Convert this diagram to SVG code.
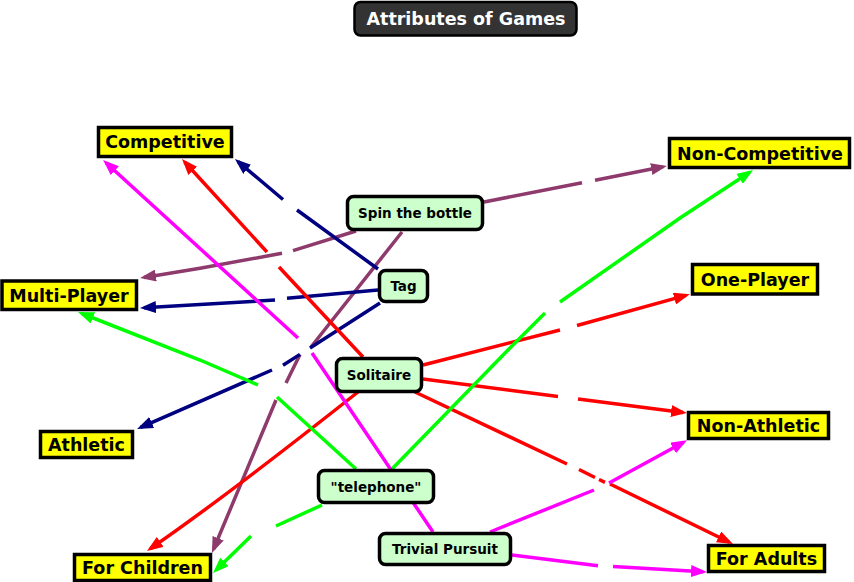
<svg xmlns="http://www.w3.org/2000/svg" width="854" height="582" viewBox="0 0 854 582">
<style>
text{font-family:"DejaVu Sans",Verdana,sans-serif;font-weight:bold;text-anchor:middle}
.attr rect{fill:#ffff00;stroke:#000;stroke-width:3.5}
.attr text{font-size:17.5px;fill:#000}
.game rect{fill:#ccffcc;stroke:#000;stroke-width:3.5}
.game text{font-size:13.5px;fill:#000}
.e{fill:none;stroke-width:3.5}
.red{stroke:#ff0000;marker-end:url(#aRed)}
.navy{stroke:#000080;marker-end:url(#aNavy)}
.mag{stroke:#ff00ff;marker-end:url(#aMag)}
.grn{stroke:#00ff00;marker-end:url(#aGrn)}
.pur{stroke:#8e3a6c;marker-end:url(#aPur)}
</style>
<defs>
<marker id="aRed" viewBox="0 0 16 12" markerWidth="16" markerHeight="12" refX="12" refY="6" markerUnits="userSpaceOnUse" orient="auto"><path d="M0,0 L16,6 L0,12 z" fill="#ff0000"/></marker>
<marker id="aNavy" viewBox="0 0 16 12" markerWidth="16" markerHeight="12" refX="12" refY="6" markerUnits="userSpaceOnUse" orient="auto"><path d="M0,0 L16,6 L0,12 z" fill="#000080"/></marker>
<marker id="aMag" viewBox="0 0 16 12" markerWidth="16" markerHeight="12" refX="12" refY="6" markerUnits="userSpaceOnUse" orient="auto"><path d="M0,0 L16,6 L0,12 z" fill="#ff00ff"/></marker>
<marker id="aGrn" viewBox="0 0 16 12" markerWidth="16" markerHeight="12" refX="12" refY="6" markerUnits="userSpaceOnUse" orient="auto"><path d="M0,0 L16,6 L0,12 z" fill="#00ff00"/></marker>
<marker id="aPur" viewBox="0 0 16 12" markerWidth="16" markerHeight="12" refX="12" refY="6" markerUnits="userSpaceOnUse" orient="auto"><path d="M0,0 L16,6 L0,12 z" fill="#8e3a6c"/></marker>
</defs>
<rect width="854" height="582" fill="#ffffff"/>

<g id="connectors">
<!-- Spin the bottle -->
<path class="e pur" d="M484,202 L582,182.7 M595,180.2 L663,166.8"/>
<path class="e pur" d="M356,231 L293,250.7 M282,253.3 L200,268.3 L144,277.4"/>
<path class="e pur" d="M402,232 L311,347 M300,354.4 L286,383 M276,400 L213.5,549.3"/>
<!-- Tag -->
<path class="e navy" d="M378,269 L297,210 M283,199.5 L238,161.6"/>
<path class="e navy" d="M378,290 L287,298.3 M275,300 L144,307.8"/>
<path class="e navy" d="M380,303 L310,348 M300,354.4 L283,365.3 M272,370 L140.7,427.4"/>
<!-- Solitaire -->
<path class="e red" d="M363,357 L279,267 M267,252 L184.7,162"/>
<path class="e red" d="M358,392 Q224,498 150.3,548.7"/>
<path class="e red" d="M423,365 L560,330 M577,325.5 L686,295.4"/>
<path class="e red" d="M423,379 L558,396.4 M578,399 L683,412.5"/>
<path class="e red" d="M415,392 L567,464 M579,469.5 L595,477.5 M599,479.5 L605,482.3 M610,484 L729.4,542.2"/>
<!-- telephone -->
<path class="e grn" d="M356,469 L277,397 M258,385 L200,360 L81.7,313.5"/>
<path class="e grn" d="M392,469 L508,350 L545,313 M560,302 L680,218 L749.7,172.2"/>
<path class="e grn" d="M322,505 L276,526 M251,536 L215.9,570.2"/>
<!-- Trivial Pursuit -->
<path class="e mag" d="M433,532 L312,353 M298,338 L106,162.7"/>
<path class="e mag" d="M490,532 L594,490 M609,483 L683.6,442.2"/>
<path class="e mag" d="M512,555 L598,565.7 M613,566.5 L703,571.8"/>
</g>

<g id="title">
<rect x="354.5" y="2" width="222" height="33.5" rx="6" fill="#333333" stroke="#000" stroke-width="2.5"/>
<text x="466" y="25" font-size="17.5" fill="#ffffff">Attributes of Games</text>
</g>

<g id="competitive" class="attr"><rect x="98.5" y="127.5" width="133" height="29"/><text x="165" y="148">Competitive</text></g>
<g id="multi-player" class="attr"><rect x="2" y="281" width="134.5" height="28.5"/><text x="69" y="301.5">Multi-Player</text></g>
<g id="non-competitive" class="attr"><rect x="669.5" y="138.5" width="180" height="29"/><text x="760" y="159.5">Non-Competitive</text></g>
<g id="one-player" class="attr"><rect x="692.5" y="264.5" width="125" height="29.5"/><text x="755" y="286">One-Player</text></g>
<g id="non-athletic" class="attr"><rect x="688.5" y="412.5" width="140" height="26"/><text x="758.5" y="431.5">Non-Athletic</text></g>
<g id="for-adults" class="attr"><rect x="708.5" y="545.5" width="116" height="26"/><text x="766.5" y="564.5">For Adults</text></g>
<g id="athletic" class="attr"><rect x="40.5" y="431.5" width="92" height="26"/><text x="86.5" y="450.5">Athletic</text></g>
<g id="for-children" class="attr"><rect x="74.5" y="554.5" width="136" height="26"/><text x="142.5" y="573.5">For Children</text></g>

<g id="spin-the-bottle" class="game"><rect x="347.5" y="196.5" width="135" height="33" rx="6"/><text x="415" y="218">Spin the bottle</text></g>
<g id="tag" class="game"><rect x="379.5" y="270.5" width="48" height="31" rx="6"/><text x="403.5" y="291">Tag</text></g>
<g id="solitaire" class="game"><rect x="336.5" y="358.5" width="85" height="33" rx="6"/><text x="379" y="380">Solitaire</text></g>
<g id="telephone" class="game"><rect x="318.5" y="470.5" width="115" height="32" rx="6"/><text x="376" y="491.5">"telephone"</text></g>
<g id="trivial-pursuit" class="game"><rect x="379.5" y="533.5" width="131" height="31" rx="6"/><text x="445" y="554">Trivial Pursuit</text></g>
</svg>
